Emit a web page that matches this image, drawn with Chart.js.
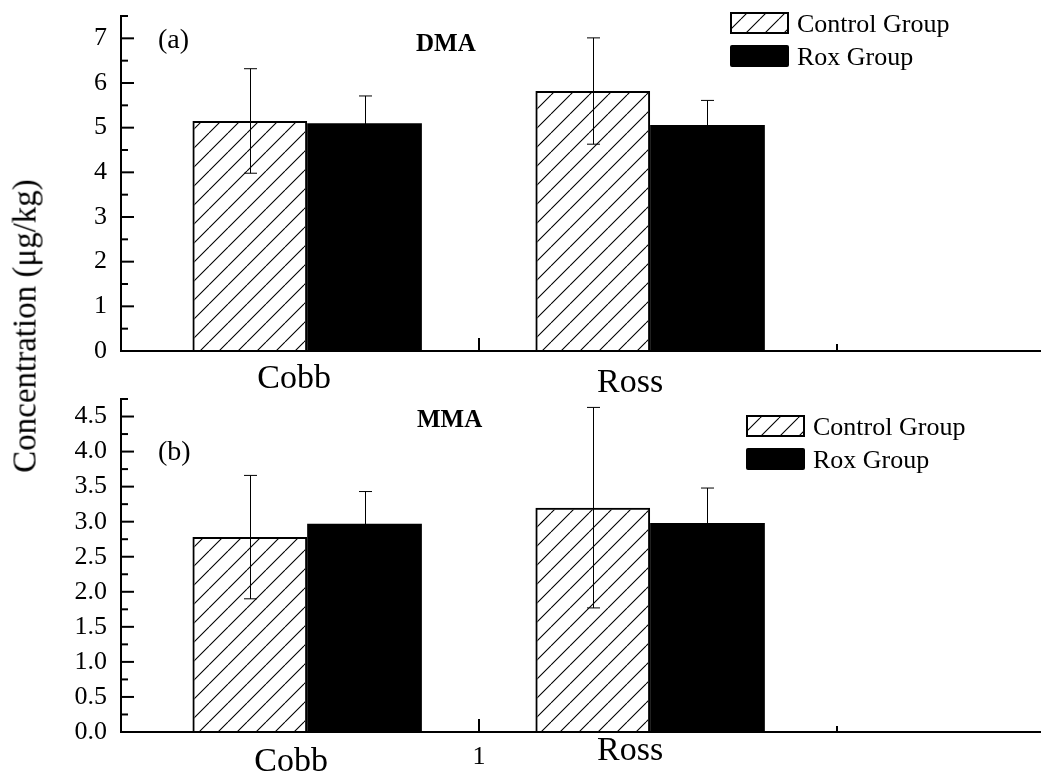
<!DOCTYPE html>
<html><head><meta charset="utf-8">
<script src="https://cdn.jsdelivr.net/npm/chart.js@4.4.1/dist/chart.umd.min.js"></script>
<style>
html,body{margin:0;padding:0;background:#fff;}
#wrap{position:relative;width:1046px;height:776px;overflow:hidden;background:#fff;}
canvas{position:absolute;left:0;top:0;}
#ytitle{position:absolute;left:25px;top:326px;transform:translate(-50%,-50%) rotate(-90deg);font-family:'Liberation Serif','Times New Roman',serif;font-size:33px;white-space:nowrap;line-height:1;color:#000;}
</style></head><body>
<div id="wrap">
<canvas id="c1" width="1046" height="776" style="width:1046px;height:776px"></canvas>
<canvas id="c2" width="1046" height="776" style="width:1046px;height:776px"></canvas>
<div id="ytitle">Concentration (μg/kg)</div>
</div>
<script>
// ---- data ----
const breeds = ['Cobb', 'Ross'];
const breedX = [0.52, 1.478];
const seriesNames = ['Control Group', 'Rox Group'];
const dmaControl = [5.15, 5.82];
const dmaControlErr = [1.17, 1.19];
const dmaRox = [5.10, 5.06];
const dmaRoxErr = [0.61, 0.55];
const mmaControl = [2.78, 3.20];
const mmaControlErr = [0.88, 1.43];
const mmaRox = [2.97, 2.98];
const mmaRoxErr = [0.46, 0.50];
const dmaYMax = 7.5, dmaYStep = 1;
const mmaYMax = 4.75, mmaYStep = 0.5;
const xAxisMax = 2.567, xStep = 1;
const bottomXTickLabels = ['', '1', ''];
const panelTitles = ['DMA', 'MMA'];
const panelLetters = ['(a)', '(b)'];

const SERIF = "'Liberation Serif','Times New Roman',serif";

function makeHatch() {
  const s = 19;
  const c = document.createElement('canvas');
  c.width = s; c.height = s;
  const g = c.getContext('2d');
  g.strokeStyle = '#000';
  g.lineWidth = 1.1;
  g.beginPath();
  for (const o of [-s, 0, s]) { g.moveTo(o, s); g.lineTo(o + s, 0); }
  g.stroke();
  return g.createPattern(c, 'repeat');
}

const panelPlugin = {
  id: 'panel',
  afterDatasetsDraw(chart, args, opts) {
    const ctx = chart.ctx;
    const ys = chart.scales.y;
    ctx.save();
    ctx.strokeStyle = '#000';
    ctx.lineWidth = 1;
    chart.data.datasets.forEach((ds, di) => {
      const meta = chart.getDatasetMeta(di);
      meta.data.forEach((el, i) => {
        const v = ds.data[i].y, e = ds.errors[i];
        const yt = ys.getPixelForValue(v + e), yb = ys.getPixelForValue(v - e);
        const x = Math.round(el.x) + 0.5;
        ctx.beginPath();
        ctx.moveTo(x, yt); ctx.lineTo(x, yb);
        ctx.moveTo(x - 6.5, yt); ctx.lineTo(x + 6.5, yt);
        ctx.moveTo(x - 6.5, yb); ctx.lineTo(x + 6.5, yb);
        ctx.stroke();
      });
    });
    ctx.restore();
  },
  afterDraw(chart, args, opts) {
    const ctx = chart.ctx;
    const ys = chart.scales.y, xs = chart.scales.x;
    const area = chart.chartArea;
    ctx.save();
    ctx.strokeStyle = '#000';
    ctx.lineWidth = 2;
    // inward y ticks
    const step = opts.yStep;
    for (let k = 0; k * step / 2 <= ys.max + 1e-9; k++) {
      const v = k * step / 2;
      const y = ys.getPixelForValue(v);
      const len = (k % 2 === 0) ? 13 : 7;
      ctx.beginPath();
      ctx.moveTo(area.left, y); ctx.lineTo(area.left + len, y);
      ctx.stroke();
    }
    // inward x ticks
    xs.ticks.forEach(t => {
      if (t.value === 0) return;
      const x = xs.getPixelForValue(t.value);
      const len = opts.xTickLen[t.value] || 0;
      ctx.beginPath();
      ctx.moveTo(x, area.bottom); ctx.lineTo(x, area.bottom - len);
      ctx.stroke();
    });
    // breed labels
    ctx.fillStyle = '#000';
    ctx.textAlign = 'center';
    ctx.textBaseline = 'alphabetic';
    ctx.font = '34px ' + SERIF;
    breeds.forEach((b, i) => {
      ctx.fillText(b, xs.getPixelForValue(breedX[i]) + opts.breedDx[i], opts.breedY[i]);
    });
    // panel letter
    ctx.textAlign = 'left';
    ctx.font = '28px ' + SERIF;
    ctx.fillText(opts.letter.text, opts.letter.x, opts.letter.y);
    // title
    ctx.font = 'bold 25px ' + SERIF;
    ctx.fillText(opts.title.text, opts.title.x, opts.title.y);
    // legend
    const L = opts.legend;
    chart.data.datasets.forEach((ds, i) => {
      const bx = L.x, by = L.y + i * 33, bw = 59, bh = 22;
      if (i === 0) {
        ctx.fillStyle = ds.backgroundColor;
        ctx.fillRect(bx, by, bw, bh);
        ctx.lineWidth = 2;
        ctx.strokeStyle = '#000';
        ctx.strokeRect(bx + 1, by + 1, bw - 2, bh - 2);
      } else {
        ctx.fillStyle = '#000';
        ctx.beginPath();
        ctx.roundRect(bx, by, bw, bh, 2);
        ctx.fill();
      }
      ctx.fillStyle = '#000';
      ctx.font = '26px ' + SERIF;
      ctx.textBaseline = 'alphabetic';
      ctx.fillText(ds.label, bx + bw + 8, by + bh / 2 + 8.6);
    });
    ctx.restore();
  }
};

function makePanel(id, ctrl, ctrlErr, rox, roxErr, yMax, yStep, cfg) {
  const hatch = makeHatch();
  return new Chart(document.getElementById(id), {
    type: 'bar',
    data: {
      datasets: [
        { label: seriesNames[0], data: breedX.map((x, i) => ({ x, y: ctrl[i] })), errors: ctrlErr,
          backgroundColor: hatch, borderColor: '#000', borderWidth: 2, borderSkipped: 'bottom' },
        { label: seriesNames[1], data: breedX.map((x, i) => ({ x, y: rox[i] })), errors: roxErr,
          backgroundColor: '#000', borderWidth: 0 }
      ]
    },
    options: {
      responsive: false,
      animation: false,
      events: [],
      layout: { padding: { top: cfg.padTop, bottom: cfg.padBottom, left: 0, right: 6 } },
      datasets: { bar: { categoryPercentage: 0.669, barPercentage: 1 } },
      plugins: {
        legend: { display: false },
        tooltip: { enabled: false },
        panel: cfg.panel
      },
      scales: {
        x: {
          type: 'linear', min: 0, max: xAxisMax, offset: false, z: 1,
          grid: { display: false, drawTicks: false, offset: false },
          border: { display: true, color: '#000', width: 2 },
          ticks: {
            display: cfg.showXLabels, stepSize: xStep, includeBounds: false,
            autoSkip: false, maxRotation: 0, padding: 10, color: '#000',
            font: { family: SERIF, size: 26 },
            callback: (v, i) => bottomXTickLabels[i] ?? ''
          },
          afterFit: s => { s.height = cfg.xHeight; s.paddingLeft = 0; s.paddingRight = 0; }
        },
        y: {
          min: 0, max: yMax, z: 1,
          grid: { display: false, drawTicks: false },
          border: { display: true, color: '#000', width: 2 },
          ticks: {
            stepSize: yStep, includeBounds: false, padding: 14, color: '#000',
            font: { family: SERIF, size: 26 },
            callback: v => (yStep < 1 ? Number(v).toFixed(1) : String(v))
          },
          afterFit: s => { s.width = 121; s.paddingTop = 0; s.paddingBottom = 0; }
        }
      }
    },
    plugins: [panelPlugin]
  });
}

makePanel('c1', dmaControl, dmaControlErr, dmaRox, dmaRoxErr, dmaYMax, dmaYStep, {
  padTop: 16, padBottom: 425, xHeight: 0, showXLabels: false,
  panel: {
    yStep: dmaYStep, xTickLen: { 1: 13, 2: 7 },
    breedDx: [-13, -20], breedY: [388, 392],
    letter: { text: panelLetters[0], x: 158, y: 48 },
    title: { text: panelTitles[0], x: 416, y: 51 },
    legend: { x: 730, y: 12 }
  }
});
makePanel('c2', mmaControl, mmaControlErr, mmaRox, mmaRoxErr, mmaYMax, mmaYStep, {
  padTop: 399, padBottom: 0, xHeight: 44, showXLabels: true,
  panel: {
    yStep: mmaYStep, xTickLen: { 1: 13, 2: 6 },
    breedDx: [-16, -20], breedY: [771, 760],
    letter: { text: panelLetters[1], x: 158, y: 460 },
    title: { text: panelTitles[1], x: 417, y: 427 },
    legend: { x: 746, y: 415 }
  }
});
</script>
</body></html>
